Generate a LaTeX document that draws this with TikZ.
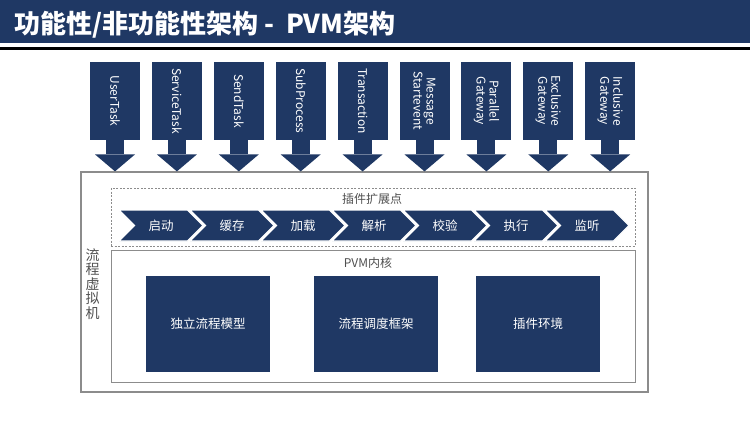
\documentclass[tikz,border=0pt]{standalone}
\usepackage{fontspec}
\setmainfont{Noto Sans CJK SC}
\usetikzlibrary{arrows.meta,shapes.symbols}
\definecolor{navy}{RGB}{31,56,100}
\definecolor{framegray}{RGB}{140,140,140}
\definecolor{labelgray}{RGB}{80,80,80}
\tikzset{
  panel/.style={draw=framegray, fill=white, inner sep=0pt},
  task/.style={fill=navy, rotate=-90, minimum width=78pt, minimum height=50pt, inner sep=0pt,
    text=white, align=center, font=\fontsize{12}{13}\selectfont},
  feed/.style={navy, line width=18pt, -{Triangle[width=40pt,length=17pt,line width=0pt]}},
  stage/.style={signal, signal to=east, signal from=west, fill=navy, draw=white, line width=1.2pt,
    minimum width=84pt, minimum height=31pt, inner sep=0pt, text=white, font=\fontsize{12.5}{13}\selectfont},
  core/.style={fill=navy, minimum width=124pt, minimum height=96pt, inner sep=0pt,
    text=white, font=\fontsize{12.5}{13}\selectfont},
  caption/.style={text=labelgray, inner sep=0pt, font=\fontsize{12}{13}\selectfont}
}
\begin{document}
\begin{tikzpicture}[x=1pt, y=-1pt]
\pgfmathsetmacro{\tx}{115}  % first task column
\pgfmathsetmacro{\tp}{61.9} % task pitch
\pgfmathsetmacro{\sx}{161}  % first stage
\pgfmathsetmacro{\sp}{71}   % stage pitch
\useasboundingbox (0,0) rectangle (750,421);
\fill[navy] (0,0) rectangle (750,43);
\fill[black] (0,47) rectangle (750,50);
\node[anchor=west, inner sep=0pt, text=white, font=\bfseries\fontsize{26}{28}\selectfont] (title) at (14,25) {功能性/非功能性架构 -\ \ PVM架构};
\node[panel, line width=1.2pt, minimum width=567pt, minimum height=220pt] (vm) at (364.5,282) {};
\node[panel, dashed, dash pattern=on 2pt off 1.5pt, line width=1pt, minimum width=524pt, minimum height=58pt] (ext) at (373,217) {};
\node[panel, line width=0.8pt, minimum width=524pt, minimum height=132pt] (kernel) at (373,316) {};
\node[caption] (extlabel) at (372,199) {插件扩展点};
\node[caption] (kernellabel) at (368,263) {PVM内核};
\node[text=labelgray, inner sep=0pt, align=center, font=\fontsize{14}{14.4}\selectfont] (vmlabel) at (92.5,284) {流\\程\\虚\\拟\\机};
\foreach \tname [count=\i from 0] in {UserTask, ServiceTask, SendTask, SubProcess, Transaction, Message\\Startevent, Parallel\\Gateway, Exclusive\\Gateway, Inclusive\\Gateway}{
  \node[task] (t\i) at (\tx+\i*\tp,101) {\tname};
  \draw[feed] (t\i.east) -- (t\i.east |- vm.north);
}
\foreach \sname [count=\i from 0] in {启动, 缓存, 加载, 解析, 校验, 执行, 监听}
  \node[stage] (s\i) at (\sx+\i*\sp,225.5) {\sname};
\node[core] (model) at (208,324) {独立流程模型};
\node[core] (sched) at (376,324) {流程调度框架};
\node[core] (plugin) at (538,324) {插件环境};
\end{tikzpicture}
\end{document}
